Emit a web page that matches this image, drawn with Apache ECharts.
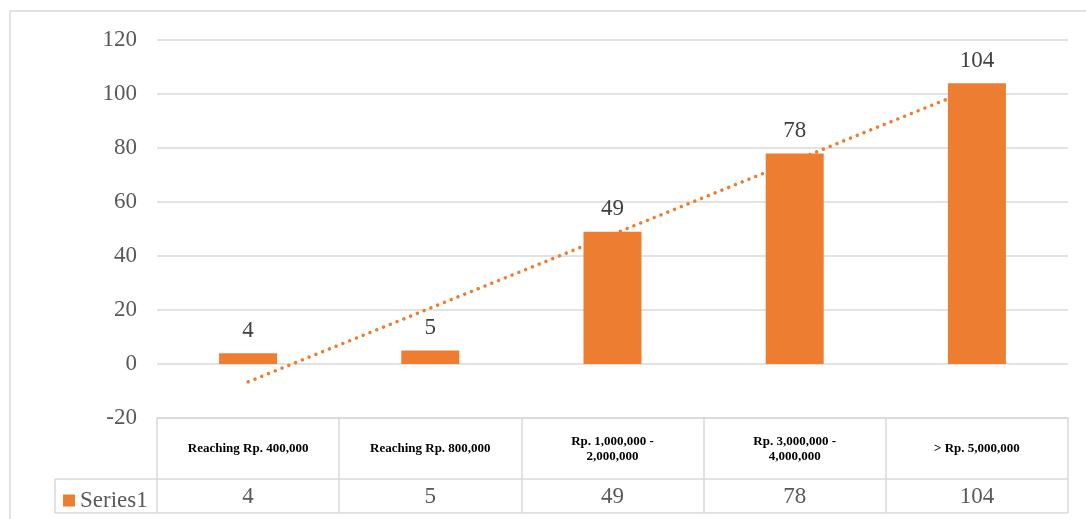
<!DOCTYPE html>
<html><head><meta charset="utf-8">
<script src="https://cdn.jsdelivr.net/npm/echarts@6/dist/echarts.min.js"></script>
<style>html,body{margin:0;padding:0;background:#fff}#c{width:1086px;height:519px}</style>
</head><body><div id="c"></div>
<script>
const categories = ['Reaching Rp. 400,000', 'Reaching Rp. 800,000', 'Rp. 1,000,000 -\n2,000,000', 'Rp. 3,000,000 -\n4,000,000', '> Rp. 5,000,000'];
const values = [4, 5, 49, 78, 104];
const trend = [-6.6, null, null, null, 102.6];
const yTicks = { min: -20, max: 120, interval: 20 };

const L = 157, R = 1068, T = 40, B = 418, TB = 513, ROW = 479, LEG = 55;
const FONT = 'Liberation Serif';
const GRID = '#D9D9D9';
const ORANGE = '#ED7D31';

const chart = echarts.init(document.getElementById('c'));
chart.setOption({
  animation: false,
  grid: { left: L, right: 1086 - R, top: T, bottom: 519 - B, containLabel: false },
  legend: {
    data: ['Series1'], left: 58, top: ROW + 5, itemWidth: 12, itemHeight: 12, itemGap: 0,
    icon: 'rect', textStyle: { fontFamily: FONT, fontSize: 23, color: '#595959' }
  },
  xAxis: [{
    type: 'category', data: categories,
    axisLine: { show: true, onZero: false, lineStyle: { color: GRID, width: 1.5 } },
    axisTick: { show: true, length: TB - B, lineStyle: { color: GRID, width: 1.5 } },
    axisLabel: { interval: 0, margin: 31, verticalAlign: 'middle', fontFamily: FONT, fontSize: 13, fontWeight: 'bold', color: '#000', lineHeight: 15 }
  }, {
    type: 'category', data: values.map(String), position: 'bottom',
    axisLine: { show: false, onZero: false }, axisTick: { show: false },
    axisLabel: { interval: 0, margin: 79, verticalAlign: 'middle', fontFamily: FONT, fontSize: 23, color: '#595959' }
  }],
  yAxis: {
    type: 'value', min: yTicks.min, max: yTicks.max, interval: yTicks.interval,
    axisLine: { show: false }, axisTick: { show: false },
    splitLine: { lineStyle: { color: GRID, width: 1.5 } },
    axisLabel: { margin: 20, fontFamily: FONT, fontSize: 23, color: '#595959' }
  },
  series: [{
    name: 'Trend', type: 'line', data: trend, connectNulls: true, symbol: 'none', z: 1,
    lineStyle: { color: ORANGE, width: 3.5, type: [0.1, 7.2], cap: 'round' }
  }, {
    name: 'Series1', type: 'bar', data: values, barWidth: 58, z: 2,
    itemStyle: { color: ORANGE },
    label: { show: true, position: 'top', distance: 11, fontFamily: FONT, fontSize: 23, color: '#404040' }
  }],
  graphic: [
    { type: 'rect', shape: { x: 10, y: 11, width: 1100, height: 600 }, style: { fill: null, stroke: GRID, lineWidth: 1.5 }, silent: true, z: -1 },
    { type: 'line', shape: { x1: LEG, y1: ROW, x2: R, y2: ROW }, style: { stroke: GRID, lineWidth: 1.5 } },
    { type: 'line', shape: { x1: LEG, y1: TB, x2: R, y2: TB }, style: { stroke: GRID, lineWidth: 1.5 } },
    { type: 'line', shape: { x1: LEG, y1: ROW, x2: LEG, y2: TB }, style: { stroke: GRID, lineWidth: 1.5 } }
  ]
});
</script></body></html>
